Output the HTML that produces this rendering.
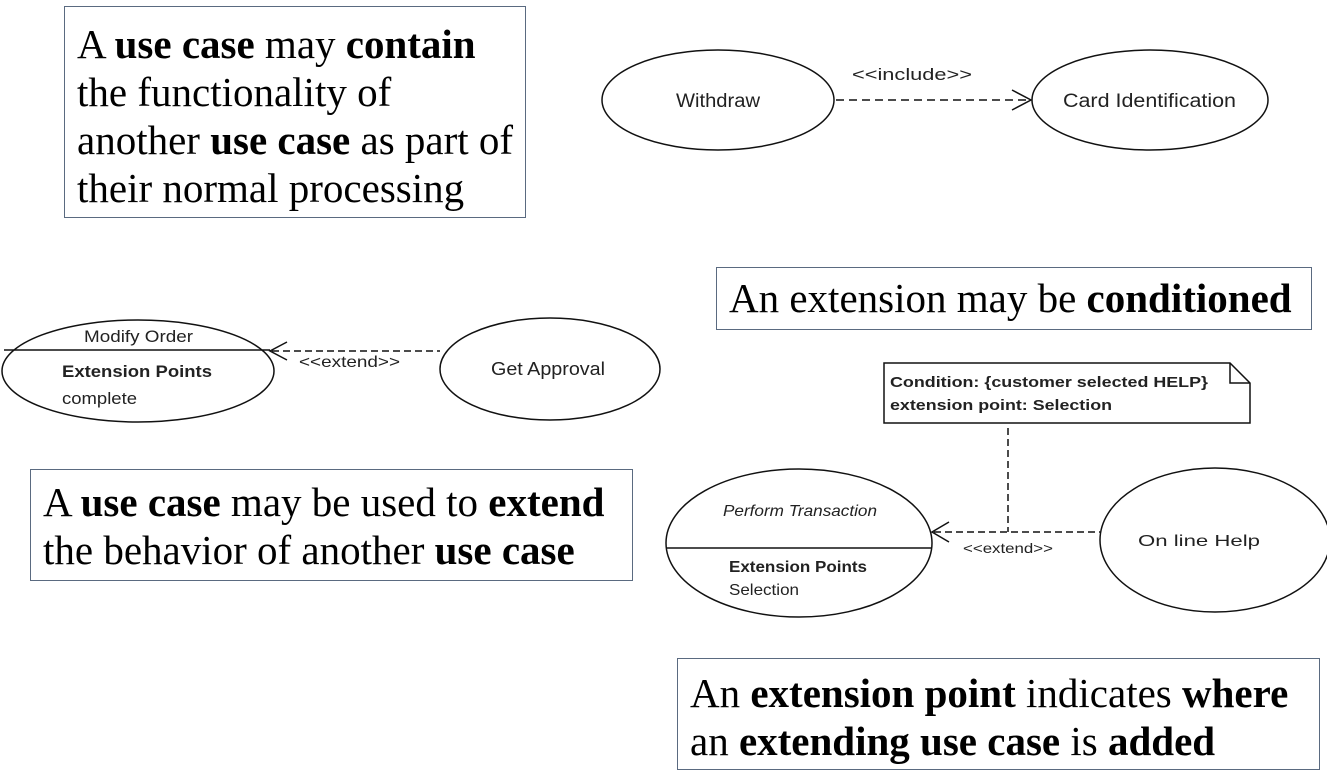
<!DOCTYPE html>
<html><head><style>
body{margin:0;width:1327px;height:778px;background:#fff;position:relative;overflow:hidden;font-family:"Liberation Serif",serif;}
.b{position:absolute;border:1.5px solid #5a6a80;box-sizing:border-box;font-size:41px;line-height:48px;color:#000;padding:0 12px;white-space:nowrap;}
svg{position:absolute;left:0;top:0}
svg text{font-family:"Liberation Sans",sans-serif;fill:#222}
</style></head><body>
<div class="b" style="left:64px;top:6px;width:462px;height:212px;padding-top:13px">A <b>use case</b> may <b>contain</b><br>the functionality of<br>another <b>use case</b> as part of<br>their normal processing</div>
<div class="b" style="left:716px;top:267px;width:596px;height:63px;padding-top:6px">An extension may be <b>conditioned</b></div>
<div class="b" style="left:30px;top:469px;width:603px;height:112px;padding-top:8px">A <b>use case</b> may be used to <b>extend</b><br>the behavior of another <b>use case</b></div>
<div class="b" style="left:677px;top:658px;width:643px;height:112px;padding-top:10px">An <b>extension point</b> indicates <b>where</b><br>an <b>extending use case</b> is <b>added</b></div>
<svg width="1327" height="778" viewBox="0 0 1327 778">
<g fill="none" stroke="#111" stroke-width="1.5">
<ellipse cx="718" cy="100" rx="116" ry="50"/>
<ellipse cx="1150" cy="100" rx="118" ry="50"/>
<line x1="836" y1="100" x2="1030" y2="100" stroke-dasharray="8,5"/>
<polyline points="1012,90 1031,100 1012,110"/>
<ellipse cx="138" cy="371" rx="136" ry="51"/>
<line x1="4" y1="350" x2="270" y2="350"/>
<ellipse cx="550" cy="369" rx="110" ry="51"/>
<line x1="272" y1="351" x2="440" y2="351" stroke-dasharray="7,4"/>
<polyline points="287,342 270,351 287,360"/>
<path d="M884,363 H1230 L1250,383 V423 H884 Z"/>
<polyline points="1230,363 1230,383 1250,383"/>
<polyline points="1008,428 1008,532" stroke-dasharray="7,4"/>
<line x1="934" y1="532" x2="1100" y2="532" stroke-dasharray="7,4"/>
<polyline points="949,522 932,532 949,542"/>
<ellipse cx="799" cy="543" rx="133" ry="74"/>
<line x1="667" y1="548" x2="931" y2="548"/>
<ellipse cx="1215" cy="540" rx="115" ry="72"/>
</g>
<text x="676" y="107" font-size="19" textLength="84" lengthAdjust="spacingAndGlyphs">Withdraw</text>
<text x="1063" y="107" font-size="19" textLength="173" lengthAdjust="spacingAndGlyphs">Card Identification</text>
<text x="852" y="80" font-size="17" textLength="120" lengthAdjust="spacingAndGlyphs">&lt;&lt;include&gt;&gt;</text>
<text x="84" y="342" font-size="17" textLength="109" lengthAdjust="spacingAndGlyphs">Modify Order</text>
<text x="62" y="377" font-size="17" font-weight="bold" textLength="150" lengthAdjust="spacingAndGlyphs">Extension Points</text>
<text x="62" y="404" font-size="17" textLength="75" lengthAdjust="spacingAndGlyphs">complete</text>
<text x="491" y="375" font-size="18" textLength="114" lengthAdjust="spacingAndGlyphs">Get  Approval</text>
<text x="299" y="367" font-size="16" textLength="101" lengthAdjust="spacingAndGlyphs">&lt;&lt;extend&gt;&gt;</text>
<text x="890" y="387" font-size="15" font-weight="bold" textLength="318" lengthAdjust="spacingAndGlyphs">Condition: {customer selected HELP}</text>
<text x="890" y="410" font-size="15" font-weight="bold" textLength="222" lengthAdjust="spacingAndGlyphs">extension point: Selection</text>
<text x="723" y="516" font-size="16" font-style="italic" textLength="154" lengthAdjust="spacingAndGlyphs">Perform Transaction</text>
<text x="729" y="572" font-size="16" font-weight="bold" textLength="138" lengthAdjust="spacingAndGlyphs">Extension Points</text>
<text x="729" y="595" font-size="16" textLength="70" lengthAdjust="spacingAndGlyphs">Selection</text>
<text x="963" y="553" font-size="14" textLength="90" lengthAdjust="spacingAndGlyphs">&lt;&lt;extend&gt;&gt;</text>
<text x="1138" y="546" font-size="16" textLength="122" lengthAdjust="spacingAndGlyphs">On line Help</text>
</svg>
</body></html>
